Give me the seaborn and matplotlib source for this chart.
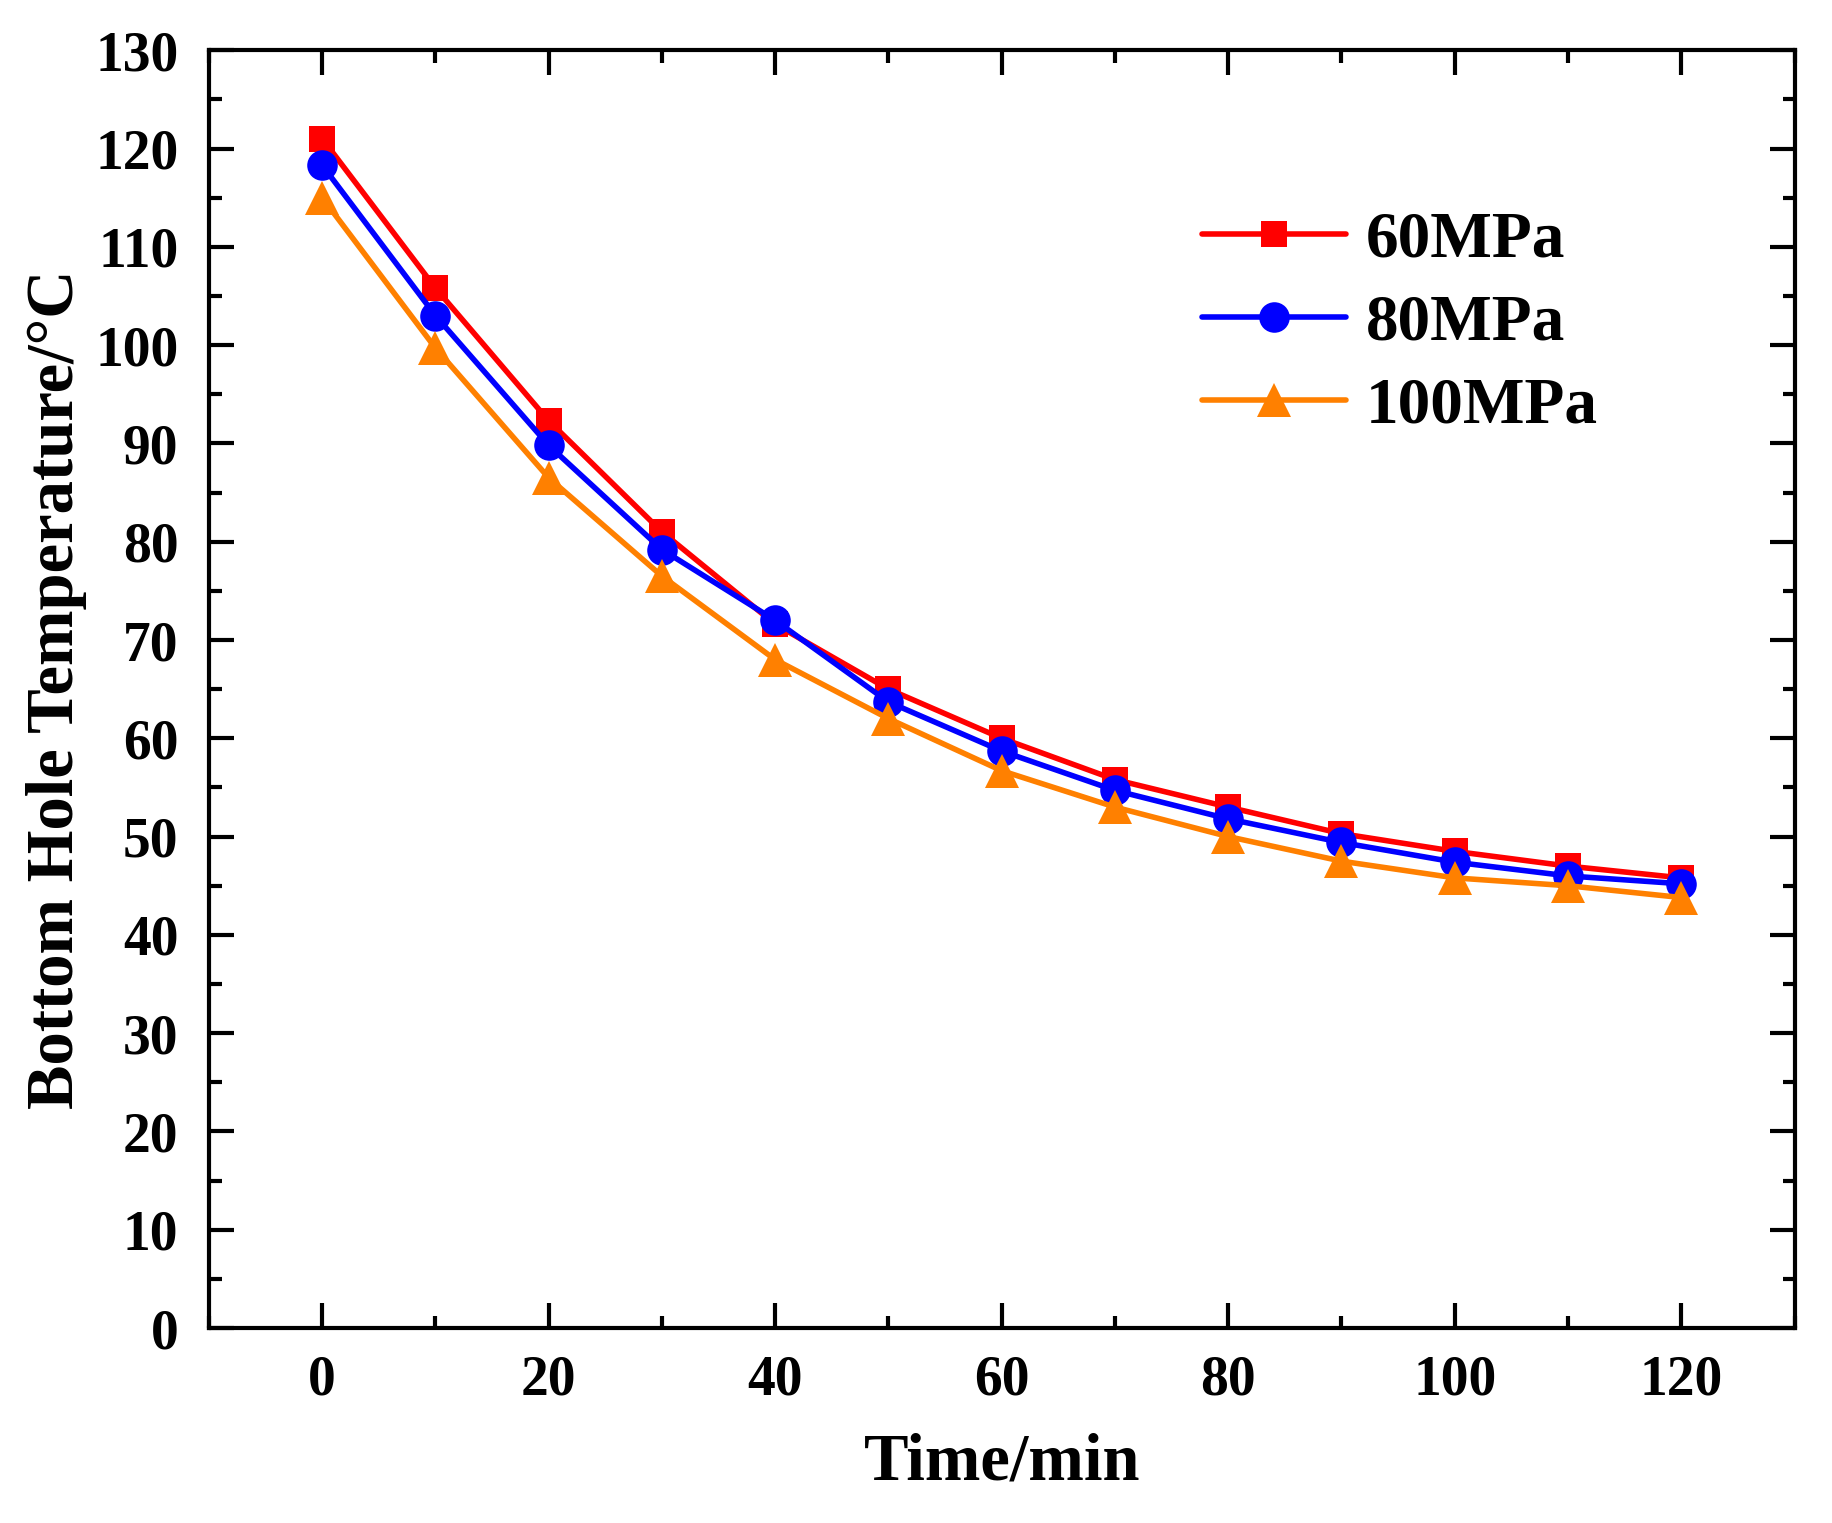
import numpy as np
import pandas as pd
import seaborn as sns
import matplotlib
matplotlib.use('Agg')
from matplotlib import pyplot as plt
from matplotlib.ticker import MultipleLocator

# values
time_min = [0, 10, 20, 30, 40, 50, 60, 70, 80, 90, 100, 110, 120]
temp_60 = [121.0, 105.8, 92.3, 81.0, 71.6, 65.0, 60.0, 55.8, 53.0, 50.3, 48.5, 47.0, 45.8]
temp_80 = [118.3, 103.0, 89.8, 79.2, 72.0, 63.7, 58.7, 54.7, 51.8, 49.4, 47.4, 46.0, 45.2]
temp_100 = [115.0, 99.7, 86.5, 76.5, 68.0, 62.0, 56.7, 53.0, 50.0, 47.5, 45.8, 45.0, 43.8]
labels = ['60MPa', '80MPa', '100MPa']

colors = ['#FF0000', '#0000FF', '#FF8000']
markers = ['s', 'o', '^']
msizes = [19, 22, 25]

sns.set_style('ticks')
plt.rcParams['font.family'] = ['Liberation Serif', 'DejaVu Serif']
plt.rcParams['font.weight'] = 'bold'
plt.rcParams['axes.labelweight'] = 'bold'
plt.rcParams['text.color'] = 'black'
plt.rcParams['axes.labelcolor'] = 'black'
plt.rcParams['xtick.color'] = 'black'
plt.rcParams['ytick.color'] = 'black'

fig = plt.figure(figsize=(18.33, 15.23), dpi=100)
ax = fig.add_axes([0.114, 0.128, 0.865, 0.839])

for lab, vals, c, m, ms in zip(labels, [temp_60, temp_80, temp_100], colors, markers, msizes):
    df = pd.DataFrame({'Time': time_min, 'Temp': vals})
    sns.lineplot(data=df, x='Time', y='Temp', ax=ax, color=c, marker=m,
                 markersize=ms, markeredgewidth=0, label=lab)

for ln in ax.lines:
    ln.set_linewidth(4)

ax.set_xlim(-10, 130)
ax.set_ylim(0, 130)
ax.xaxis.set_major_locator(MultipleLocator(20))
ax.xaxis.set_minor_locator(MultipleLocator(10))
ax.yaxis.set_major_locator(MultipleLocator(10))
ax.yaxis.set_minor_locator(MultipleLocator(5))
ax.tick_params(which='both', direction='in', top=True, right=True, width=3, color='black')
ax.tick_params(which='major', length=18, labelsize=40, pad=22)
ax.tick_params(axis='x', which='major', pad=19)
ax.tick_params(which='minor', length=9)
for s in ax.spines.values():
    s.set_linewidth(3)
    s.set_color('black')

ax.set_xlabel('Time/min', fontsize=48, fontweight='bold', labelpad=19)
ax.set_ylabel('Bottom Hole Temperature/\u00b0C', fontsize=48, fontweight='bold', labelpad=6)

leg = ax.legend(loc='upper left', bbox_to_anchor=(0.606, 0.9), frameon=False,
                prop={'size': 47, 'weight': 'bold'}, handlelength=2.2,
                handletextpad=0.3, labelspacing=0.35, borderpad=0)
for h in leg.get_lines():
    h.set_linewidth(4)

fig.savefig('out.png', dpi=100)
